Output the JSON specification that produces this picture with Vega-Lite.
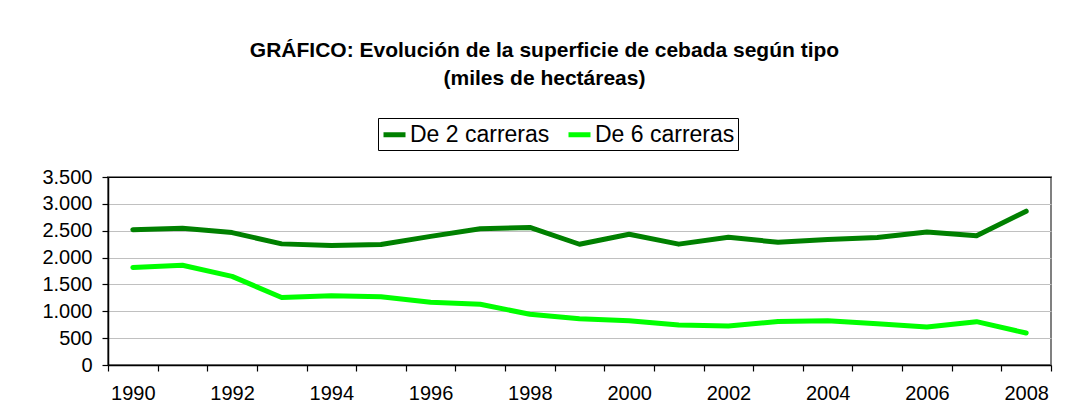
{
  "$schema": "https://vega.github.io/schema/vega-lite/v6.json",
  "width": 943,
  "height": 188,
  "autosize": {"type": "none"},
  "padding": {"left": 108, "top": 177, "right": 16, "bottom": 54},
  "background": "white",
  "title": {
    "text": ["GRÁFICO: Evolución de la superficie de cebada según tipo", "(miles de hectáreas)"],
    "fontSize": 21,
    "fontWeight": "bold",
    "font": "Liberation Sans",
    "color": "black",
    "anchor": "middle",
    "frame": "group",
    "dx": -35,
    "offset": 29,
    "lineHeight": 28
  },
  "data": {
    "values": [
      {"year": 1990, "tipo": "De 2 carreras", "valor": 2520},
      {"year": 1991, "tipo": "De 2 carreras", "valor": 2545},
      {"year": 1992, "tipo": "De 2 carreras", "valor": 2465},
      {"year": 1993, "tipo": "De 2 carreras", "valor": 2255},
      {"year": 1994, "tipo": "De 2 carreras", "valor": 2225},
      {"year": 1995, "tipo": "De 2 carreras", "valor": 2245},
      {"year": 1996, "tipo": "De 2 carreras", "valor": 2395},
      {"year": 1997, "tipo": "De 2 carreras", "valor": 2537},
      {"year": 1998, "tipo": "De 2 carreras", "valor": 2562},
      {"year": 1999, "tipo": "De 2 carreras", "valor": 2248},
      {"year": 2000, "tipo": "De 2 carreras", "valor": 2435},
      {"year": 2001, "tipo": "De 2 carreras", "valor": 2250},
      {"year": 2002, "tipo": "De 2 carreras", "valor": 2378},
      {"year": 2003, "tipo": "De 2 carreras", "valor": 2285},
      {"year": 2004, "tipo": "De 2 carreras", "valor": 2335},
      {"year": 2005, "tipo": "De 2 carreras", "valor": 2372},
      {"year": 2006, "tipo": "De 2 carreras", "valor": 2475},
      {"year": 2007, "tipo": "De 2 carreras", "valor": 2408},
      {"year": 2008, "tipo": "De 2 carreras", "valor": 2863},
      {"year": 1990, "tipo": "De 6 carreras", "valor": 1815},
      {"year": 1991, "tipo": "De 6 carreras", "valor": 1857},
      {"year": 1992, "tipo": "De 6 carreras", "valor": 1650},
      {"year": 1993, "tipo": "De 6 carreras", "valor": 1258},
      {"year": 1994, "tipo": "De 6 carreras", "valor": 1289},
      {"year": 1995, "tipo": "De 6 carreras", "valor": 1272},
      {"year": 1996, "tipo": "De 6 carreras", "valor": 1167},
      {"year": 1997, "tipo": "De 6 carreras", "valor": 1130},
      {"year": 1998, "tipo": "De 6 carreras", "valor": 944},
      {"year": 1999, "tipo": "De 6 carreras", "valor": 863},
      {"year": 2000, "tipo": "De 6 carreras", "valor": 822},
      {"year": 2001, "tipo": "De 6 carreras", "valor": 745},
      {"year": 2002, "tipo": "De 6 carreras", "valor": 728},
      {"year": 2003, "tipo": "De 6 carreras", "valor": 810},
      {"year": 2004, "tipo": "De 6 carreras", "valor": 825},
      {"year": 2005, "tipo": "De 6 carreras", "valor": 770},
      {"year": 2006, "tipo": "De 6 carreras", "valor": 708},
      {"year": 2007, "tipo": "De 6 carreras", "valor": 807},
      {"year": 2008, "tipo": "De 6 carreras", "valor": 595}
    ]
  },
  "mark": {"type": "line", "strokeWidth": 5, "strokeCap": "round", "strokeJoin": "round"},
  "encoding": {
    "x": {
      "field": "year",
      "type": "ordinal",
      "bandPosition": 0.5,
      "scale": {"type": "band", "paddingInner": 0, "paddingOuter": 0},
      "axis": {
        "title": null,
        "labelAngle": 0,
        "tickBand": "extent",
        "labelExpr": "datum.value % 2 == 0 ? datum.label : ''",
        "grid": false,
        "domainColor": "black",
        "domainWidth": 1.5,
        "tickColor": "black",
        "tickWidth": 1.2,
        "tickSize": 6,
        "labelFontSize": 20,
        "labelColor": "black",
        "labelPadding": 12
      }
    },
    "y": {
      "field": "valor",
      "type": "quantitative",
      "scale": {"domain": [0, 3500], "nice": false},
      "axis": {
        "title": null,
        "values": [0, 500, 1000, 1500, 2000, 2500, 3000, 3500],
        "labelExpr": "replace(format(datum.value, ','), ',', '.')",
        "grid": true,
        "gridColor": {"condition": {"test": "datum.value == 3500", "value": "black"}, "value": "#c0c0c0"},
        "gridWidth": 1.2,
        "domainColor": "black",
        "domainWidth": 1.5,
        "tickColor": "black",
        "tickWidth": 1.2,
        "tickSize": 6,
        "labelFontSize": 20,
        "labelColor": "black",
        "labelPadding": 10
      }
    },
    "color": {
      "field": "tipo",
      "type": "nominal",
      "scale": {"domain": ["De 2 carreras", "De 6 carreras"], "range": ["#008000", "#00ff00"]},
      "legend": {
        "title": null,
        "orient": "none",
        "legendX": 270,
        "legendY": -59,
        "direction": "horizontal",
        "strokeColor": "black",
        "padding": 3,
        "symbolType": "stroke",
        "symbolStrokeWidth": 5,
        "symbolSize": 484,
        "labelFontSize": 23,
        "labelColor": "black",
        "labelOffset": 2,
        "columnPadding": 8
      }
    }
  },
  "config": {
    "font": "Liberation Sans",
    "view": {"stroke": "#808080", "strokeWidth": 2}
  }
}
